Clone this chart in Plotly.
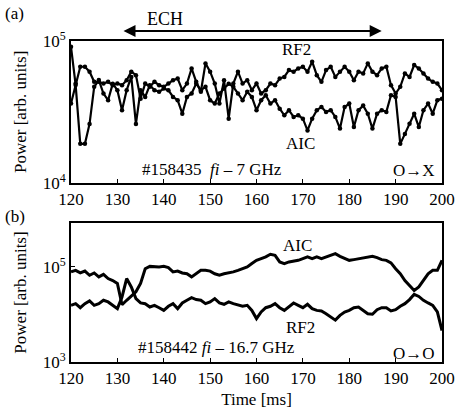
import plotly.graph_objects as go
from plotly.subplots import make_subplots

# ---------------- data (power in units of 1e4 arb. units) ----------------
time_ms = list(range(120, 201))

rf2_a = [3.62, 5.01, 6.58, 6.58, 6.07, 5.15, 5.15, 5.01, 5.15, 4.88,
         5.01, 4.88, 5.29, 6.07, 5.74, 3.92, 5.01, 4.75, 5.15, 4.88,
         4.75, 5.01, 5.29, 5.43, 4.5, 5.01, 6.4, 5.15, 4.38, 6.95,
         6.07, 5.01, 3.62, 5.29, 2.83, 5.01, 6.07, 5.01, 5.29, 4.5,
         5.01, 4.26, 4.5, 5.01, 4.88, 5.43, 5.58, 6.23, 6.07, 6.4,
         6.58, 6.07, 7.14, 5.74, 5.15, 6.23, 6.58, 5.58, 6.07, 6.58,
         6.07, 5.29, 6.07, 5.9, 6.95, 6.07, 5.74, 6.4, 6.58, 4.88,
         4.26, 4.75, 5.9, 5.58, 6.76, 6.4, 5.9, 5.43, 5.15, 5.01,
         4.5]

aic_a = [9.1, 4.9, 1.88, 1.88, 2.6, 4.75, 5.3, 4.26, 3.82, 5.0,
         4.5, 3.25, 4.5, 5.58, 2.6, 4.5, 4.03, 4.88, 4.5, 4.38,
         4.62, 4.5, 4.03, 3.82, 3.07, 4.03, 4.26, 5.0, 4.5, 4.75,
         3.82, 3.62, 4.26, 4.62, 5.0, 4.75, 4.26, 3.82, 4.38, 4.03,
         3.25, 3.82, 4.14, 3.62, 3.82, 3.33, 2.99, 3.25, 2.91, 2.99,
         2.83, 2.34, 2.83, 3.25, 3.42, 3.16, 3.25, 2.91, 2.41, 3.42,
         3.62, 2.47, 3.25, 3.5, 3.07, 2.41, 3.07, 3.25, 3.16, 4.14,
         4.03, 1.88, 2.21, 2.61, 3.07, 2.47, 3.25, 3.62, 3.07, 3.82,
         3.92]

aic_b = [7.9, 8.5, 7.5, 8.2, 6.7, 7.5, 6.2, 7.0, 5.7, 5.2,
         4.5, 1.6, 1.99, 2.5, 3.0, 4.5, 9.2, 10.3, 10.0, 10.0,
         10.3, 9.7, 7.9, 8.2, 7.5, 7.2, 6.2, 7.2, 8.5, 8.5,
         8.2, 7.2, 6.7, 7.2, 7.5, 7.9, 8.5, 9.2, 10.0, 11.8,
         13.8, 15.0, 16.3, 18.5, 17.6, 12.8, 11.8, 12.8, 13.4, 13.8,
         15.0, 16.3, 15.0, 16.3, 15.0, 16.3, 17.6, 19.1, 16.8, 15.0,
         13.8, 14.3, 15.0, 15.7, 16.3, 16.8, 15.7, 14.3, 13.8, 12.2,
         9.2, 7.2, 5.2, 4.1, 3.2, 3.8, 5.2, 7.2, 8.5, 8.5,
         13.8]

rf2_b = [1.56, 1.69, 1.39, 1.69, 1.93, 1.56, 1.69, 1.99, 1.84, 1.56,
         1.33, 2.34, 5.7, 3.8, 2.16, 1.75, 1.69, 1.44, 1.56, 1.39,
         1.22, 1.49, 1.69, 1.33, 1.75, 1.99, 2.26, 2.06, 1.99, 1.69,
         1.84, 2.16, 1.75, 1.64, 1.84, 1.69, 1.56, 1.49, 1.56, 1.22,
         0.82, 1.13, 1.39, 1.49, 1.69, 1.39, 1.22, 1.49, 1.75, 1.56,
         1.39, 1.64, 1.33, 1.22, 1.19, 1.04, 0.89, 0.76, 0.96, 1.13,
         1.22, 1.39, 1.44, 1.22, 1.04, 1.01, 1.26, 1.39, 1.39, 1.19,
         1.26, 1.49, 1.69, 2.06, 2.66, 2.4, 1.99, 1.75, 1.56, 1.13,
         0.46]

UNIT = 1e4
x_ticks = [120, 130, 140, 150, 160, 170, 180, 190, 200]
ya_ticks = [1e4, 1e5]
ya_text = ["10<sup>4</sup>", "10<sup>5</sup>"]
yb_ticks = [1e3, 1e5]
yb_text = ["10<sup>3</sup>", "10<sup>5</sup>"]
ech_start, ech_end = 131, 187

FONT = "Liberation Serif"

fig = make_subplots(rows=2, cols=1, shared_xaxes=False, vertical_spacing=0.125)

fig.add_trace(go.Scatter(x=time_ms, y=[v * UNIT for v in rf2_a], mode="lines+markers",
                         line=dict(color="black", width=2.2), marker=dict(size=4.5, color="black"),
                         showlegend=False), row=1, col=1)
fig.add_trace(go.Scatter(x=time_ms, y=[v * UNIT for v in aic_a], mode="lines+markers",
                         line=dict(color="black", width=2.2), marker=dict(size=4.5, color="black"),
                         showlegend=False), row=1, col=1)
fig.add_trace(go.Scatter(x=time_ms, y=[v * UNIT for v in aic_b], mode="lines",
                         line=dict(color="black", width=3), showlegend=False), row=2, col=1)
fig.add_trace(go.Scatter(x=time_ms, y=[v * UNIT for v in rf2_b], mode="lines",
                         line=dict(color="black", width=3), showlegend=False), row=2, col=1)

axis_common = dict(showline=True, linecolor="black", linewidth=2, mirror=True,
                   ticks="inside", ticklen=4, tickcolor="black", showgrid=False, zeroline=False,
                   automargin=False,
                   tickfont=dict(family=FONT, size=17, color="black"))

fig.update_layout(
    width=458, height=413,
    margin=dict(l=71, r=16, t=41, b=51),
    paper_bgcolor="white", plot_bgcolor="white",
    font=dict(family=FONT, color="black"),
    xaxis=dict(domain=[0, 1], range=[120, 200], tickvals=x_ticks, **axis_common),
    xaxis2=dict(domain=[0, 1], range=[120, 200], tickvals=x_ticks,
                title=dict(text="Time [ms]", font=dict(family=FONT, size=17), standoff=6),
                **axis_common),
    yaxis=dict(domain=[0.5586, 1], type="log", range=[4, 5], tickvals=ya_ticks, ticktext=ya_text,
               title=dict(text="Power [arb. units]", font=dict(family=FONT, size=17), standoff=12),
               **axis_common),
    yaxis2=dict(domain=[0, 0.433], type="log", range=[3, 5.926], tickvals=yb_ticks, ticktext=yb_text,
                title=dict(text="Power [arb. units]", font=dict(family=FONT, size=17), standoff=12),
                **axis_common),
)

tf = dict(family=FONT, size=17, color="black")
mid = dict(xanchor="center", yanchor="middle", showarrow=False)
ann = [
    dict(text="(a)", xref="paper", yref="paper", x=-0.151, y=1.087, font=tf, **mid),
    dict(text="(b)", xref="paper", yref="paper", x=-0.151, y=0.452, font=tf, **mid),
    dict(text="ECH", xref="x", yref="paper", x=140.3, y=1.068,
         font=dict(family=FONT, size=18, color="black"), **mid),
    dict(text="", xref="x", yref="paper", x=ech_end, y=1.031, axref="x", ax=ech_start,
         ayref="pixel", ay=0, showarrow=True, arrowside="end+start", arrowhead=2,
         arrowsize=1.2, arrowwidth=2, arrowcolor="black"),
    dict(text="RF2", xref="x", yref="paper", x=168.7, y=0.972, font=tf, **mid),
    dict(text="AIC", xref="x", yref="paper", x=169.4, y=0.682, font=tf, **mid),
    dict(text="#158435  <i>fi</i> – 7 GHz", xref="paper", yref="paper", x=0.381, y=0.601,
         font=tf, **mid),
    dict(text="O→X", xref="paper", yref="paper", x=0.987, y=0.597, xanchor="right",
         yanchor="middle", showarrow=False, font=tf),
    dict(text="AIC", xref="x", yref="paper", x=168.8, y=0.364, font=tf, **mid),
    dict(text="RF2", xref="x", yref="paper", x=169.5, y=0.106, font=tf, **mid),
    dict(text="#158442 <i>fi</i> – 16.7 GHz", xref="paper", yref="paper", x=0.391, y=0.044,
         font=tf, **mid),
    dict(text="O→O", xref="paper", yref="paper", x=0.987, y=0.028, xanchor="right",
         yanchor="middle", showarrow=False, font=tf),
]
fig.update_layout(annotations=ann)

fig.write_html("out.html", config={"displayModeBar": False},
               post_script="document.body.style.margin='0';")
